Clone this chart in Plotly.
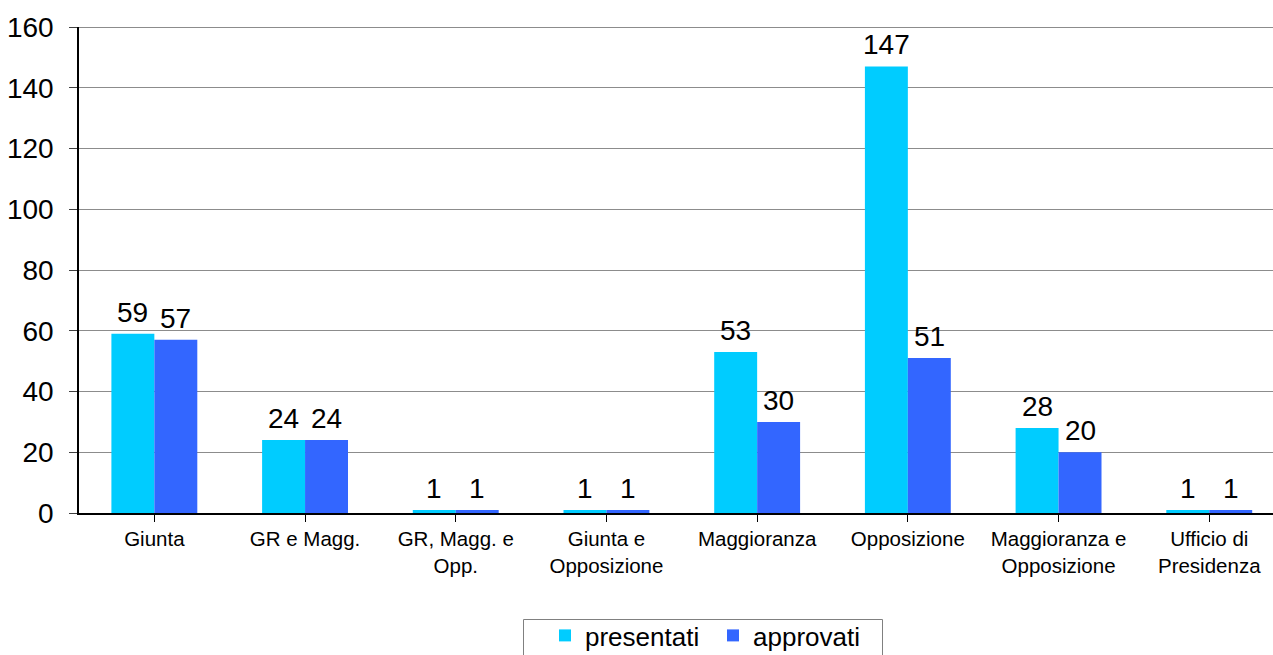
import plotly.graph_objects as go

categories = ["Giunta", "GR e Magg.", "GR, Magg. e<br>Opp.", "Giunta e<br>Opposizione",
              "Maggioranza", "Opposizione", "Maggioranza e<br>Opposizione", "Ufficio di<br>Presidenza"]
presentati = [59, 24, 1, 1, 53, 147, 28, 1]
approvati = [57, 24, 1, 1, 30, 51, 20, 1]
y_ticks = [0, 20, 40, 60, 80, 100, 120, 140, 160]

FONT = "Liberation Sans, Arial, sans-serif"
W, H = 1273, 655
ML, MT, MB = 79, 27, 142
cat_px = 150.7
plot_w = W - ML
plot_h = H - MT - MB
x_hi = -0.5 + plot_w / cat_px


def px_x(px):
    return (px - ML) / plot_w


def px_y(py):
    return (H - MB - py) / plot_h


fig = go.Figure()
fig.add_trace(go.Bar(name="presentati", x=list(range(len(categories))), y=presentati,
                     marker=dict(color="#00CCFF", line=dict(width=0))))
fig.add_trace(go.Bar(name="approvati", x=list(range(len(categories))), y=approvati,
                     marker=dict(color="#3366FF", line=dict(width=0))))

bar_w_px = 43
ann = []
for i in range(len(categories)):
    for vals, sh in ((presentati, -bar_w_px / 2), (approvati, bar_w_px / 2)):
        ann.append(dict(x=i, y=vals[i], xref="x", yref="y", text=str(vals[i]), showarrow=False,
                        xshift=sh, yshift=4, yanchor="bottom",
                        font=dict(family=FONT, size=28, color="black")))

fig.update_layout(
    width=W, height=H, autosize=False,
    margin=dict(l=ML, r=0, t=MT, b=MB, pad=0, autoexpand=False),
    paper_bgcolor="white", plot_bgcolor="white",
    barmode="group", bargap=0.43, bargroupgap=0,
    font=dict(family=FONT, color="black"),
    annotations=ann,
    showlegend=True,
    legend=dict(orientation="h", x=px_x(545), xanchor="left", y=px_y(612), yanchor="top",
                borderwidth=0, bgcolor="rgba(0,0,0,0)", font=dict(family=FONT, size=26),
                itemwidth=30, entrywidth=123, entrywidthmode="pixels", tracegroupgap=0),
    xaxis=dict(tickmode="array", tickvals=list(range(len(categories))), ticktext=categories,
               range=[-0.5, x_hi], tickson="boundaries", ticks="outside", ticklen=7,
               tickcolor="black", showline=True, linecolor="black", linewidth=1.5,
               showgrid=False, tickfont=dict(family=FONT, size=20.5), tickangle=0,
               automargin=False),
    yaxis=dict(range=[0, 160], tickvals=y_ticks, ticks="outside", ticklen=8, tickcolor="#404040",
               showline=True, linecolor="black", linewidth=1.5, showgrid=True,
               gridcolor="#8c8c8c", gridwidth=1, zeroline=False, ticklabelstandoff=10,
               tickfont=dict(family=FONT, size=28), automargin=False),
    shapes=[
        dict(type="line", xref="paper", yref="y", x0=0, x1=1, y0=160, y1=160,
             line=dict(color="#8c8c8c", width=2)),
        dict(type="rect", xref="paper", yref="paper", x0=px_x(523.5), x1=px_x(882.5),
             y0=px_y(619.5), y1=px_y(670), line=dict(color="#808080", width=1),
             fillcolor="rgba(0,0,0,0)"),
    ],
)

fig.write_html("out.html")
